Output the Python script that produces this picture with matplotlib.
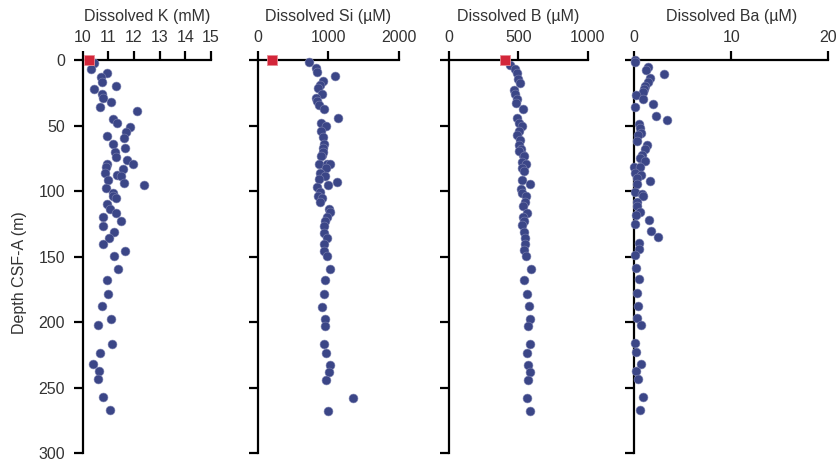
import matplotlib.pyplot as plt
import numpy as np

plt.rcParams['font.family'] = ['Liberation Sans', 'DejaVu Sans']

# seawater reference values (red squares), depth 0
sw_K = 10.27
sw_Si = 194
sw_B = 403

# dissolved K (mM) vs depth (m)
k_depth = [2, 6.9, 10, 12.7, 16.5, 19.8, 21.9, 26, 28.7, 31.8, 35.8, 38.6, 45.2, 47.8,
           51, 54.6, 57.7, 59.2, 64.3, 66.8, 69.9, 73.7, 76.2, 79.3, 81.3, 79, 85.9,
           83.3, 87.7, 88.7, 91.5, 93.5, 95.5, 97.6, 101.1, 103.7, 105, 110, 113.4,
           116.4, 119.7, 122.5, 126.3, 131.4, 135.7, 140.3, 145.4, 149.4, 159.1,
           167.5, 178.1, 187.8, 197.5, 202, 216.3, 223.1, 231.8, 237.1, 243.2, 256.9,
           266.6]
k_val = [10.46, 10.32, 10.95, 10.71, 10.77, 11.30, 10.46, 10.75, 10.81, 11.10, 10.69,
         12.11, 11.17, 11.35, 11.84, 11.69, 10.95, 11.60, 11.20, 11.65, 11.25, 11.29,
         11.72, 10.97, 10.93, 11.98, 10.88, 11.59, 11.35, 11.51, 11.0, 11.61, 12.38,
         10.91, 11.17, 11.2, 11.29, 10.97, 11.07, 11.30, 10.81, 11.48, 10.81, 11.24,
         11.04, 10.81, 11.67, 11.24, 11.39, 10.95, 10.99, 10.75, 11.10, 10.60, 11.16,
         10.69, 10.42, 10.63, 10.59, 10.78, 11.08]

# dissolved Si (uM)
si_depth = [1.8, 6.4, 8.9, 12.2, 15.8, 19, 21.6, 25.7, 28.7, 31, 34.5, 37.6, 44.5, 47.8,
            50, 53.9, 58.5, 64.3, 67.3, 72.4, 69.9, 73.2, 79.3, 79.3, 79.3, 82.6, 86.4,
            88.4, 93, 95, 91, 97, 101, 103.7, 105.5, 108, 113.4, 115.9, 119.4, 122.5,
            126.6, 131.6, 135.7, 140.3, 145.4, 149.4, 159.1, 167.7, 178.4, 188, 197.2,
            202.8, 216.5, 223.1, 232.5, 237.6, 243.7, 257.4, 267.4]
si_val = [728, 823, 841, 1088, 918, 879, 856, 908, 818, 841, 870, 936, 1135, 889, 960,
          889, 918, 936, 926, 903, 926, 889, 870, 974, 1021, 964, 879, 950, 1116, 997,
          870, 832, 879, 856, 903, 879, 1007, 1021, 974, 950, 936, 936, 974, 932, 932,
          974, 1017, 946, 932, 913, 955, 946, 932, 969, 1017, 1007, 960, 1343, 993]

# dissolved B (uM)
b_depth = [3.8, 6.9, 10, 14.5, 17.8, 22.9, 25.9, 30, 33, 37.1, 44.5, 47.8, 50.3, 53.9,
           57.2, 61, 64.8, 67.9, 72.4, 69.4, 73.2, 77.4, 79, 82, 85, 91.5, 94.3, 98.6,
           101.6, 104, 108, 111.3, 116.4, 119.4, 122.5, 126, 131.1, 135.4, 140.3, 144.9,
           149.4, 159.1, 167.7, 178.4, 187.5, 197.7, 202.5, 216.5, 223.1, 232.5, 237.6,
           243.7, 257.4, 267.6]
b_val = [439, 475, 487, 499, 511, 470, 475, 487, 482, 535, 487, 501, 523, 504, 491, 511,
         506, 518, 535, 506, 542, 523, 554, 528, 540, 527, 583, 518, 525, 554, 549, 535,
         559, 535, 540, 527, 540, 547, 549, 542, 554, 590, 542, 563, 573, 585, 566, 585,
         561, 571, 581, 571, 561, 581]

# dissolved Ba (uM)
ba_depth = [0, 1.5, 5.1, 7.6, 10.7, 14, 16.5, 19.8, 22.4, 24.2, 26.9, 30, 33.5, 36.1,
            42.7, 45.7, 48.8, 52.1, 55.4, 57.2, 61.8, 64.8, 68.1, 72.4, 74.9, 77, 81.3,
            81.3, 86.4, 87.7, 90.2, 92.2, 94.5, 100.4, 102, 104, 108, 111, 115.6, 118.4,
            121.7, 125, 130.4, 134.9, 139.5, 144.3, 148.7, 158.8, 167.2, 177.9, 187.3,
            196.7, 202.3, 216, 222.9, 232, 237.1, 243.4, 257.2, 267.1]
ba_val = [0.03, 0.05, 1.37, 1.17, 3.02, 1.65, 1.37, 1.13, 0.96, 0.9, 0.2, 0.86, 1.89,
          0.07, 2.24, 3.36, 0.48, 0.59, 0.69, 0.41, 0.31, 1.28, 1.1, 0.76, 0.55, 1.06, 0.0,
          0.55, 0.07, 0.72, 0.24, 1.65, 0.24, 0.07, 0.79, 0.89, 0.27, 0.27, 0.62, 0.2,
          1.55, 0.07, 1.75, 2.41, 0.45, 0.52, 0.07, 0.21, 0.45, 0.31, 0.38, 0.31, 0.66,
          0.07, 0.21, 0.66, 0.21, 0.38, 0.86, 0.59]

titles = ['Dissolved K (mM)', 'Dissolved Si (µM)', 'Dissolved B (µM)', 'Dissolved Ba (µM)']
xlims = [(10, 15), (0, 2000), (0, 1000), (0, 20)]
xticks = [[10, 11, 12, 13, 14, 15], [0, 1000, 2000], [0, 500, 1000], [0, 10, 20]]
depths = [k_depth, si_depth, b_depth, ba_depth]
values = [k_val, si_val, b_val, ba_val]
seawater = [sw_K, sw_Si, sw_B, None]

# axes positions in figure fraction
boxes = [(0.0986, 0.1535), (0.3082, 0.1685), (0.5364, 0.1661), (0.7578, 0.2318)]
bottom, height = 0.012, 0.8573

blue = '#3b4687'
red = '#d3263a'
txt = '#333333'

fig = plt.figure(figsize=(8.37, 4.59), dpi=100)

for i in range(4):
    ax = fig.add_axes([boxes[i][0], bottom, boxes[i][1], height])
    ax.plot(values[i], depths[i], 'o', color=blue, ms=6.4, mec='#7c82b0', mew=0.4,
            clip_on=False, zorder=3)
    if seawater[i] is not None:
        ax.plot([seawater[i]], [0], 's', color=red, ms=7.5, mec='#e98a93', mew=0.6,
                clip_on=False, zorder=4)
    ax.set_xlim(*xlims[i])
    ax.set_ylim(300, 0)
    ax.set_xticks(xticks[i])
    ax.set_yticks(np.arange(0, 301, 50))
    ax.xaxis.tick_top()
    ax.xaxis.set_label_position('top')
    ax.set_xlabel(titles[i], fontsize=11.5, color=txt, labelpad=7)
    for s in ['right', 'bottom']:
        ax.spines[s].set_visible(False)
    for s in ['left', 'top']:
        ax.spines[s].set_linewidth(1.6)
    ax.tick_params(axis='both', direction='out', length=6.5, width=1.6,
                   labelsize=11.5, labelcolor=txt)
    ax.tick_params(axis='x', pad=4)
    ax.tick_params(axis='y', pad=6)
    if i == 0:
        ax.set_ylabel('Depth CSF-A (m)', fontsize=11.5, color=txt)
        ax.yaxis.set_label_coords(-0.43, 0.46)
    else:
        ax.set_yticklabels([])

fig.savefig('out.png', dpi=100)
